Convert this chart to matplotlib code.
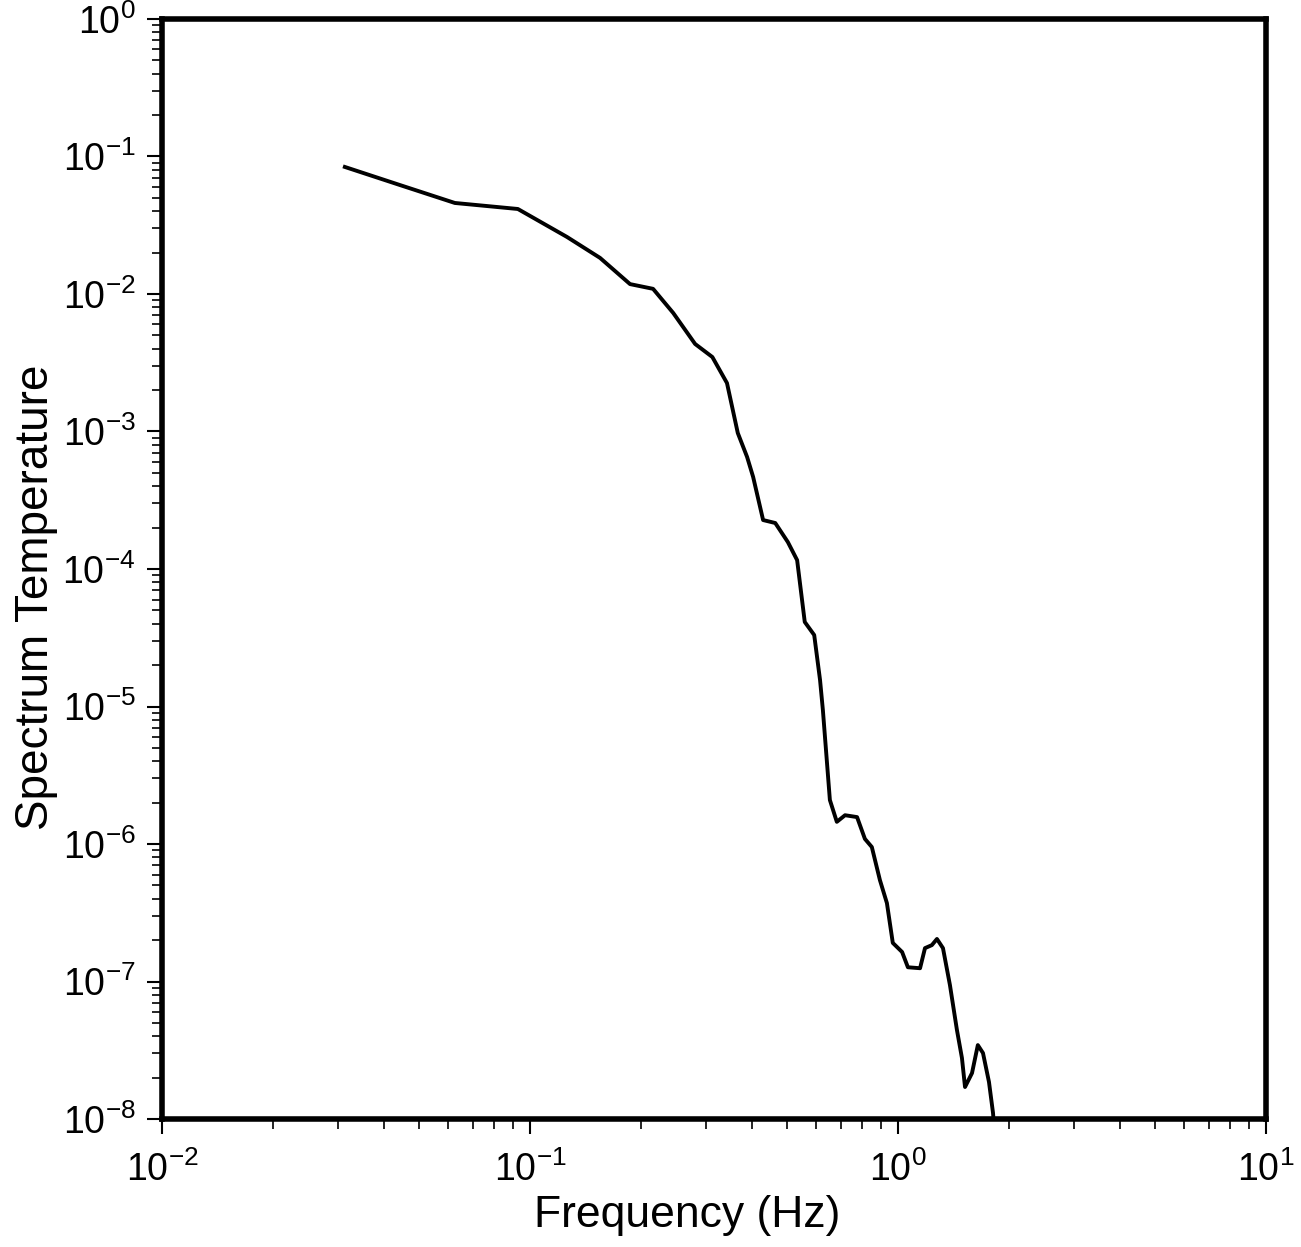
import matplotlib
matplotlib.use("Agg")
import matplotlib.pyplot as plt
import matplotlib.ticker as mticker
import numpy as np

# spectrum
freq_hz = [0.0314, 0.0443, 0.0625, 0.0927, 0.126, 0.155, 0.187, 0.216, 0.245,
           0.281, 0.313, 0.343, 0.367, 0.389, 0.404, 0.430, 0.464, 0.502,
           0.532, 0.558, 0.592, 0.614, 0.625, 0.653, 0.682, 0.718, 0.774,
           0.813, 0.849, 0.893, 0.933, 0.968, 1.026, 1.064, 1.148, 1.184,
           1.236, 1.276, 1.325, 1.384, 1.446, 1.492, 1.521, 1.589, 1.648,
           1.702, 1.767, 1.812, 1.83]
spectrum = [0.0839, 0.0620, 0.0459, 0.0415, 0.0260, 0.0183, 0.0118, 0.0109,
            0.00728, 0.00433, 0.00348, 0.00225, 9.75e-4, 6.53e-4, 4.67e-4,
            2.27e-4, 2.16e-4, 1.57e-4, 1.16e-4, 4.12e-5, 3.31e-5, 1.56e-5,
            9.44e-6, 2.09e-6, 1.45e-6, 1.62e-6, 1.57e-6, 1.09e-6, 9.51e-7,
            5.47e-7, 3.72e-7, 1.91e-7, 1.64e-7, 1.27e-7, 1.25e-7, 1.75e-7,
            1.84e-7, 2.04e-7, 1.75e-7, 9.43e-8, 4.44e-8, 2.78e-8, 1.71e-8,
            2.16e-8, 3.45e-8, 3.02e-8, 1.86e-8, 1.11e-8, 8.0e-9]

plt.rcParams['font.family'] = ['Liberation Sans', 'DejaVu Sans']
plt.rcParams['mathtext.default'] = 'regular'

fig = plt.figure(figsize=(13.01, 12.47), dpi=100)
ax = fig.add_axes([0.1245, 0.1026, 0.8486, 0.8822])

ax.plot(freq_hz, spectrum, color='black', linewidth=2.8)

ax.set_xscale('log')
ax.set_yscale('log')
ax.set_xlim(1e-2, 1e1)
ax.set_ylim(1e-8, 1e0)

ax.xaxis.set_major_locator(mticker.LogLocator(base=10, numticks=10))
ax.yaxis.set_major_locator(mticker.LogLocator(base=10, numticks=12))
ax.xaxis.set_minor_locator(mticker.LogLocator(base=10, subs=np.arange(2, 10), numticks=10))
ax.yaxis.set_minor_locator(mticker.LogLocator(base=10, subs=np.arange(2, 10), numticks=12))
ax.xaxis.set_minor_formatter(mticker.NullFormatter())
ax.yaxis.set_minor_formatter(mticker.NullFormatter())
ax.xaxis.get_offset_text().set_visible(False)
ax.yaxis.get_offset_text().set_visible(False)

for side in ax.spines.values():
    side.set_linewidth(4)

ax.tick_params(which='major', direction='out', length=11, width=1.5,
               labelsize=27, top=False, right=False)
ax.tick_params(axis='x', which='major', pad=12)
ax.tick_params(axis='y', which='major', pad=8)
ax.tick_params(which='minor', direction='out', length=7, width=1.2,
               top=False, right=False)

ax.set_xlabel('Frequency (Hz)', fontsize=32)
ax.set_ylabel('Spectrum Temperature', fontsize=33)
ax.xaxis.set_label_coords(0.4755, -0.069)
ax.yaxis.set_label_coords(-0.094, 0.4745)

fig.savefig('out.png', dpi=100)
